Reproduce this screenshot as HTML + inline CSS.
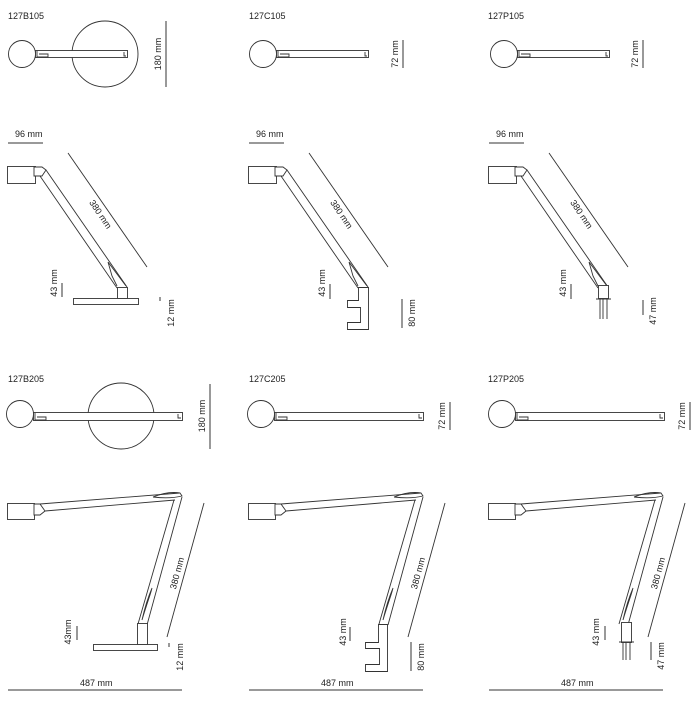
<!DOCTYPE html>
<html><head><meta charset="utf-8"><style>
html,body{margin:0;padding:0;background:#fff;}
svg{display:block;}
text{font-family:"Liberation Sans",sans-serif;font-size:9px;fill:#222;}
</style></head><body>
<svg width="700" height="702" viewBox="0 0 700 702" xmlns="http://www.w3.org/2000/svg">
<defs>
<g id="top1" fill="#fff" stroke="#333" stroke-width="0.9">
  <circle cx="22" cy="54" r="13.5"/>
  <rect x="35.5" y="50.5" width="92" height="7"/>
  <path d="M37 51 v6 h11 v-3 h-9 M124 52 v4 h2" fill="none"/>
</g>
<g id="top2" fill="#fff" stroke="#333" stroke-width="0.9">
  <circle cx="20" cy="414" r="13.5"/>
  <rect x="33.5" y="412.5" width="149" height="8"/>
  <path d="M35 413 v7 h11 v-3 h-9 M178 414 v4 h3" fill="none"/>
</g>
<g id="side1" fill="none" stroke="#333" stroke-width="0.9">
  <line x1="8" y1="143" x2="43" y2="143"/>
  <rect x="7.5" y="166.5" width="28" height="17" fill="#fff"/>
  <path d="M34 167 h8 l4 3 l-4 6 h-8 z" fill="#fff"/>
  <line x1="46" y1="170" x2="127" y2="287"/>
  <line x1="40" y1="176" x2="117" y2="288"/>
  <path d="M108 262 l12 16 l6 8 M108 262 l4 14 l5 10"/>
  <line x1="68" y1="153" x2="147" y2="267"/>
</g>
<g id="side2" fill="none" stroke="#333" stroke-width="0.9">
  <rect x="7.5" y="503.5" width="27" height="16" fill="#fff"/>
  <path d="M34 504 h6 l5 7 l-5 4 h-6 z" fill="#fff"/>
  <line x1="40" y1="504" x2="180" y2="493"/>
  <line x1="45" y1="511" x2="175" y2="500"/>
  <path d="M153 497 q15 -6 27 -4 l2 3 q-12 3 -29 1"/>
  <line x1="182" y1="497" x2="147" y2="625"/>
  <line x1="174" y1="500" x2="138" y2="624"/>
  <path d="M149 598 q2 -6 3 -10 q-6 14 -10 32 q3 -10 7 -22"/>
  <line x1="204" y1="503" x2="167" y2="637"/>
  <line x1="8" y1="690" x2="182" y2="690"/>
</g>
</defs>

<text x="8" y="19">127B105</text>
<text x="249" y="19">127C105</text>
<text x="488" y="19">127P105</text>
<text x="8" y="382">127B205</text>
<text x="249" y="382">127C205</text>
<text x="488" y="382">127P205</text>

<circle cx="105" cy="54" r="33" fill="none" stroke="#333" stroke-width="0.9"/>
<use href="#top1"/>
<use href="#top1" x="241"/>
<use href="#top1" x="482"/>
<line x1="166" y1="21" x2="166" y2="87" stroke="#333"/>
<text transform="translate(161,54) rotate(-90)" text-anchor="middle">180 mm</text>
<line x1="403" y1="40" x2="403" y2="68" stroke="#333"/>
<text transform="translate(398,54) rotate(-90)" text-anchor="middle">72 mm</text>
<line x1="643" y1="40" x2="643" y2="68" stroke="#333"/>
<text transform="translate(638,54) rotate(-90)" text-anchor="middle">72 mm</text>

<circle cx="121" cy="416" r="33" fill="none" stroke="#333" stroke-width="0.9"/>
<use href="#top2"/>
<use href="#top2" x="241"/>
<use href="#top2" x="482"/>
<line x1="210" y1="384" x2="210" y2="449" stroke="#333"/>
<text transform="translate(205,416) rotate(-90)" text-anchor="middle">180 mm</text>
<line x1="450" y1="402" x2="450" y2="430" stroke="#333"/>
<text transform="translate(445,416) rotate(-90)" text-anchor="middle">72 mm</text>
<line x1="690" y1="402" x2="690" y2="430" stroke="#333"/>
<text transform="translate(685,416) rotate(-90)" text-anchor="middle">72 mm</text>

<use href="#side1"/>
<use href="#side1" x="241"/>
<use href="#side1" x="481"/>
<g fill="#fff" stroke="#333" stroke-width="0.9">
  <rect x="117.5" y="287.5" width="10" height="11"/>
  <rect x="73.5" y="298.5" width="65" height="6"/>
  <path d="M358.5 287.5 h10 v42 h-21 v-7 h13 v-15 h-13 v-7 h11 z"/>
  <rect x="598.5" y="285.5" width="10" height="13"/>
  <path d="M596 299 h15 M600 299 v20 M603 299 v20 M607 299 v20" fill="none"/>
</g>
<g stroke="#333">
<line x1="62" y1="283" x2="62" y2="297"/>
<line x1="330" y1="284" x2="330" y2="299"/>
<line x1="571" y1="284" x2="571" y2="299"/>
<line x1="160" y1="297" x2="160" y2="301"/>
<line x1="402" y1="299" x2="402" y2="328"/>
<line x1="643" y1="300" x2="643" y2="315"/>
</g>
<text x="15" y="137">96 mm</text><text x="256" y="137">96 mm</text><text x="496" y="137">96 mm</text>
<text transform="translate(98,216) rotate(56)" text-anchor="middle">380 mm</text>
<text transform="translate(339,216) rotate(56)" text-anchor="middle">380 mm</text>
<text transform="translate(579,216) rotate(56)" text-anchor="middle">380 mm</text>
<text transform="translate(57,283) rotate(-90)" text-anchor="middle">43 mm</text>
<text transform="translate(325,283) rotate(-90)" text-anchor="middle">43 mm</text>
<text transform="translate(566,283) rotate(-90)" text-anchor="middle">43 mm</text>
<text transform="translate(174,313) rotate(-90)" text-anchor="middle">12 mm</text>
<text transform="translate(415,313) rotate(-90)" text-anchor="middle">80 mm</text>
<text transform="translate(656,311) rotate(-90)" text-anchor="middle">47 mm</text>

<use href="#side2"/>
<use href="#side2" x="241"/>
<use href="#side2" x="481"/>
<g fill="#fff" stroke="#333" stroke-width="0.9">
  <rect x="137.5" y="623.5" width="10" height="21"/>
  <rect x="93.5" y="644.5" width="64" height="6"/>
  <path d="M378.5 624.5 h9 v47 h-22 v-7 h14 v-16 h-14 v-6 h13 z"/>
  <rect x="621.5" y="622.5" width="10" height="20"/>
  <path d="M619 642 h15 M623 642 v18 M626 642 v18 M630 642 v18" fill="none"/>
</g>
<g stroke="#333">
<line x1="77" y1="626" x2="77" y2="640"/>
<line x1="350" y1="627" x2="350" y2="641"/>
<line x1="605" y1="626" x2="605" y2="640"/>
<line x1="169" y1="643" x2="169" y2="647"/>
<line x1="411" y1="642" x2="411" y2="671"/>
<line x1="651" y1="642" x2="651" y2="660"/>
</g>
<text transform="translate(180,574) rotate(-75)" text-anchor="middle">380 mm</text>
<text transform="translate(421,574) rotate(-75)" text-anchor="middle">380 mm</text>
<text transform="translate(661,574) rotate(-75)" text-anchor="middle">380 mm</text>
<text transform="translate(71,632) rotate(-90)" text-anchor="middle">43mm</text>
<text transform="translate(346,632) rotate(-90)" text-anchor="middle">43 mm</text>
<text transform="translate(599,632) rotate(-90)" text-anchor="middle">43 mm</text>
<text transform="translate(183,657) rotate(-90)" text-anchor="middle">12 mm</text>
<text transform="translate(424,657) rotate(-90)" text-anchor="middle">80 mm</text>
<text transform="translate(664,656) rotate(-90)" text-anchor="middle">47 mm</text>
<text x="80" y="686">487 mm</text>
<text x="321" y="686">487 mm</text>
<text x="561" y="686">487 mm</text>
</svg>
</body></html>
